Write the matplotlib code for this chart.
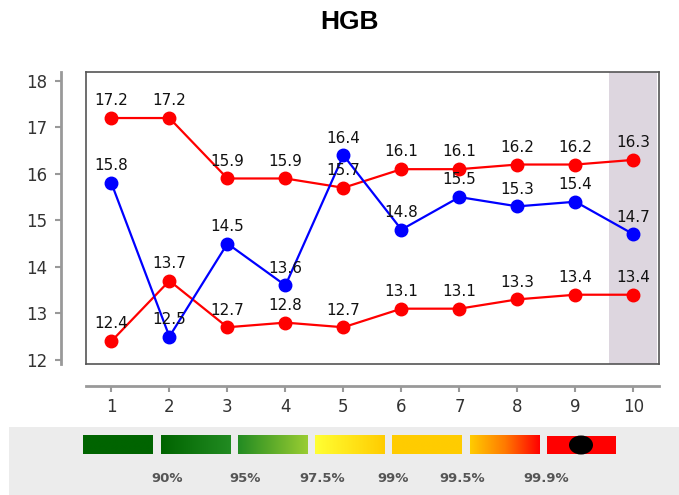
import numpy as np
import matplotlib.pyplot as plt
from matplotlib.patches import Rectangle, Ellipse
from matplotlib.colors import LinearSegmentedColormap

visits = [1, 2, 3, 4, 5, 6, 7, 8, 9, 10]
upper_limit = [17.2, 17.2, 15.9, 15.9, 15.7, 16.1, 16.1, 16.2, 16.2, 16.3]
lower_limit = [12.4, 13.7, 12.7, 12.8, 12.7, 13.1, 13.1, 13.3, 13.4, 13.4]
hgb = [15.8, 12.5, 14.5, 13.6, 16.4, 14.8, 15.5, 15.3, 15.4, 14.7]
yticks = [12, 13, 14, 15, 16, 17, 18]
pct_labels = ['90%', '95%', '97.5%', '99%', '99.5%', '99.9%']

W, H = 679, 495
fig = plt.figure(figsize=(W / 100, H / 100), dpi=100)
plt.rcParams['font.family'] = 'DejaVu Sans'

def px(x0, y0, x1, y1):
    return [x0 / W, 1 - y1 / H, (x1 - x0) / W, (y1 - y0) / H]

xlim = (0.557, 10.44)
ylim = (11.91, 18.19)

# main plot box
ax = fig.add_axes(px(85.7, 72, 659, 364))
ax.set_xlim(*xlim)
ax.set_ylim(*ylim)
ax.set_xticks([])
ax.set_yticks([])
for s in ax.spines.values():
    s.set_color('#555555')
    s.set_linewidth(1.2)
ax.axvspan(9.58, 10.41, color='#ddd6df', lw=0, zorder=0)

for vals, col in [(upper_limit, '#ff0000'), (lower_limit, '#ff0000'), (hgb, '#0000ff')]:
    ax.plot(visits, vals, color=col, lw=1.6, marker='o', ms=9, zorder=3)
    for x, v in zip(visits, vals):
        ax.annotate(f'{v:.1f}', (x, v), xytext=(0, 7), textcoords='offset points',
                    ha='center', va='bottom', fontsize=11, color='#111111', zorder=4)

# detached y axis
ay = fig.add_axes(px(61, 72, 61.5, 364))
ay.set_ylim(*ylim)
ay.set_yticks(yticks)
ay.set_xticks([])
for k in ['top', 'right', 'bottom']:
    ay.spines[k].set_visible(False)
ay.spines['left'].set_color('#999999')
ay.spines['left'].set_linewidth(2)
ay.tick_params(axis='y', length=4, width=1.5, color='#999999', labelsize=12,
               labelcolor='#333333', pad=6)
ay.patch.set_visible(False)

# detached x axis
axx = fig.add_axes(px(85.7, 385, 659, 385.7))
axx.set_xlim(*xlim)
axx.set_xticks(visits)
axx.set_yticks([])
for k in ['top', 'right', 'left']:
    axx.spines[k].set_visible(False)
axx.spines['bottom'].set_color('#999999')
axx.spines['bottom'].set_linewidth(2)
axx.tick_params(axis='x', length=4, width=1.5, color='#999999', labelsize=12,
                labelcolor='#333333', pad=5)
axx.patch.set_visible(False)

fig.text(350 / W, 1 - 22 / H, 'HGB', ha='center', va='center', fontsize=19,
         fontweight='bold', family='Liberation Sans')

# colour key at the bottom
leg = fig.add_axes([0, 0, 1, 1], zorder=-1)
leg.axis('off')
leg.add_patch(Rectangle((9, 427), W - 9, H - 427, color='#ececec', lw=0, zorder=0))

bars = [
    (83.3, 153, ['#006400', '#006400']),
    (160.7, 230, ['#006400', '#228b22']),
    (237.7, 307.5, ['#228b22', '#9acd32']),
    (314.6, 384.5, ['#ffff33', '#ffcc00']),
    (392.4, 461.5, ['#ffcc00', '#ffcc00']),
    (469.8, 539.3, ['#ffcc00', '#ff7a00', '#ff0000']),
]
grad = np.linspace(0, 1, 256)[None, :]
for x0, x1, cols in bars:
    cmap = LinearSegmentedColormap.from_list('g', cols)
    leg.imshow(grad, cmap=cmap, aspect='auto', extent=(x0, x1, 454.3, 435.7),
               interpolation='bilinear', zorder=2)
leg.add_patch(Rectangle((546.7, 435.7), 616 - 546.7, 454.3 - 435.7, color='#ff0000',
                        lw=0, zorder=2))
leg.add_patch(Ellipse((581, 445), 24, 19, color='black', lw=0, zorder=3))
leg.set_xlim(0, W)
leg.set_ylim(H, 0)

label_x = [167.5, 244.6, 322.3, 392.8, 461.7, 546.6]
for x, t in zip(label_x, pct_labels):
    leg.text(x, 479, t, ha='center', va='center', fontsize=9.5, fontweight='bold',
             color='#555555')

fig.savefig('out.png', dpi=100)
